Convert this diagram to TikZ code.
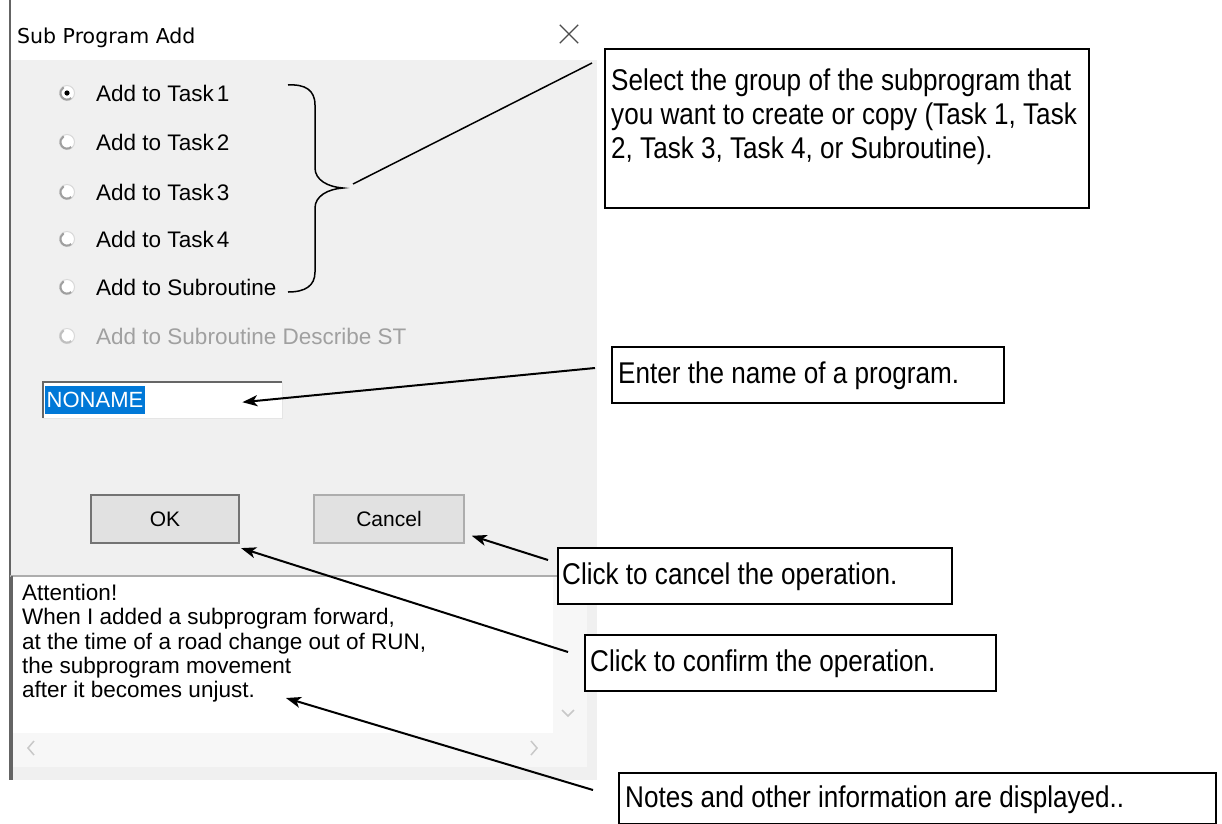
\documentclass[tikz,border=0pt]{standalone}
\usepackage{fontspec}
\setmainfont{Liberation Sans}
\newfontfamily\callfont[FakeStretch=0.87]{Liberation Sans}
\newfontfamily\titlefont{DejaVu Sans}
\usetikzlibrary{arrows.meta,calc}

\definecolor{dlgbg}{HTML}{F0F0F0}
\definecolor{dlgframe}{HTML}{646464}
\definecolor{btnbg}{HTML}{E1E1E1}
\definecolor{btnbd}{HTML}{ADADAD}
\definecolor{selblue}{HTML}{0078D7}
\definecolor{dimtext}{HTML}{A0A0A0}
\definecolor{chevron}{HTML}{C8C8C8}
\definecolor{scrollbg}{HTML}{F7F7F7}

\tikzset{
  uitext/.style={anchor=west, inner sep=0pt, font=\fontsize{22.5}{26}\selectfont},
  radiobtn/.style={circle, minimum size=15pt, inner sep=0pt, fill=white, draw=gray!30, line width=1pt},
  button/.style={draw=btnbd, line width=1.5pt, fill=btnbg, inner sep=0pt,
    minimum height=48pt, font=\fontsize{21}{24}\selectfont},
  cbox/.style={draw=black, line width=2pt, fill=white, inner sep=0pt, anchor=north west},
  ctext/.style={inner sep=0pt, align=left, font=\callfont\fontsize{30}{34}\selectfont},
  pointer/.style={draw=black, line width=2pt, -{Stealth[length=15pt,width=11pt,inset=4pt]}},
  leader/.style={draw=black, line width=1.5pt},
}

\begin{document}
\begin{tikzpicture}[x=1pt, y=-1pt]
\useasboundingbox (0,0) rectangle (1222,823);
\fill[white] (0,0) rectangle (1222,823);

% dialog window
\fill[white] (10,0) rectangle (597,60);
\fill[dlgbg] (10,60) rectangle (597,780);
\draw[dlgframe, line width=2pt] (10,0) -- (10,780);
\node[anchor=west, inner sep=0pt, font=\titlefont\fontsize{20.5}{24}\selectfont] (title) at (17,38) {Sub Program Add};
\node[inner sep=0pt, minimum size=18pt] (close) at (569,34) {};
\draw[line width=1.2pt, black!70] (close.north west) -- (close.south east)
  (close.south west) -- (close.north east);

% radio buttons
\foreach \i/\y/\lbl/\col/\ring in {1/93/{Add to Task\kern3pt 1}/black/gray!75,
                              2/142/{Add to Task\kern3pt 2}/black/gray!75,
                              3/192/{Add to Task\kern3pt 3}/black/gray!75,
                              4/239/{Add to Task\kern3pt 4}/black/gray!75,
                              5/287/{Add to Subroutine}/black/gray!75,
                              6/336/{Add to Subroutine Describe ST}/dimtext/gray!50} {
  \node[radiobtn] (r\i) at (67,\y) {};
  \draw[\ring, line width=2pt] ($(r\i)+(50:6.6)$) arc[start angle=50, end angle=240, radius=6.6];
  \node[uitext, text=\col] (l\i) at (96,\y) {\lbl};
}
\fill[black] (r1) circle (2.6);

% brace grouping the task choices
\draw[leader] (288,85) .. controls (305,84) and (315,90) .. (315,105)
  -- (315,168) .. controls (315,180) and (328,187) .. (343,188)
  .. controls (328,189) and (315,196) .. (315,208)
  -- (315,272) .. controls (315,286) and (305,292) .. (288,292);
\coordinate (bracetip) at (353,184);

% program name field
\node[fill=white, inner sep=0pt, minimum width=239pt, minimum height=36pt, anchor=north west] (namebox) at (43,382) {};
\draw[black!60, line width=2pt] (namebox.south west) -- (namebox.north west) -- (namebox.north east);
\draw[gray!20, line width=1pt] (namebox.north east) -- (namebox.south east) -- (namebox.south west);
\node[fill=selblue, text=white, inner sep=1.5pt, minimum height=28pt, anchor=west,
  font=\fontsize{22}{24}\selectfont] (nametext) at (45,400) {NONAME};

% buttons
\node[button, minimum width=148pt, draw=black!55, line width=2.2pt] (ok) at (165,519) {OK};
\node[button, minimum width=150pt] (cancel) at (389,519) {Cancel};

% message area
\fill[white] (12,577) rectangle (553,733);
\fill[scrollbg] (12,733) rectangle (553,767);
\fill[scrollbg] (553,577) rectangle (587,767);
\draw[btnbd, line width=2pt] (10,576) -- (597,576);
\draw[dlgframe, line width=2pt] (12,576) -- (12,780);
\draw[chevron, line width=1.5pt] (34,741) -- (28,748) -- (34,755);
\draw[chevron, line width=1.5pt] (531,741) -- (537,748) -- (531,755);
\draw[chevron, line width=1.5pt] (562,710) -- (568,716) -- (574,710);
\node[anchor=north west, inner sep=0pt, align=left, font=\fontsize{22.5}{24.3}\selectfont] (notes) at (22,584)
  {Attention!\\
   When I added a subprogram forward,\\
   at the time of a road change out of RUN,\\
   the subprogram movement\\
   after it becomes unjust.};

% callouts
\node[cbox, minimum width=484pt, minimum height=159pt] (b1) at (604,48) {};
\node[ctext, anchor=north west] (t1) at ($(b1.north west)+(7,21)$)
  {Select the group of the subprogram that\\
   you want to create or copy (Task 1, Task\\
   2, Task 3, Task 4, or Subroutine).};

\node[cbox, minimum width=392pt, minimum height=56pt] (b2) at (611,346) {};
\node[ctext, anchor=west] (t2) at ($(b2.west)+(7,1)$) {Enter the name of a program.};

\node[cbox, minimum width=394pt, minimum height=56pt] (b3) at (557,547) {};
\node[ctext, anchor=west] (t3) at ($(b3.west)+(5,1)$) {Click to cancel the operation.};

\node[cbox, minimum width=411pt, minimum height=56pt] (b4) at (584,634) {};
\node[ctext, anchor=west] (t4) at ($(b4.west)+(6,1)$) {Click to confirm the operation.};

\node[cbox, minimum width=597pt, minimum height=51pt] (b5) at (618,772) {};
\node[ctext, anchor=west] (t5) at ($(b5.west)+(7,1)$) {Notes and other information are displayed..};

% connectors
\coordinate (c1) at (592,63);
\draw[leader] (bracetip) -- (c1);

\coordinate (c2) at (595,368);
\coordinate (p2) at ($(namebox.east)+(-40,2)$);
\draw[pointer] (c2) -- (p2);

\coordinate (c3) at (548,560);
\coordinate (p3) at ($(cancel.south east)+(7,-8)$);
\draw[pointer] (c3) -- (p3);

\coordinate (c4) at (568,652);
\coordinate (p4) at ($(ok.south east)+(1,4)$);
\draw[pointer] (c4) -- (p4);

\coordinate (c5) at (593,790);
\coordinate (p5) at (286,698);
\draw[pointer] (c5) -- (p5);
\end{tikzpicture}
\end{document}
